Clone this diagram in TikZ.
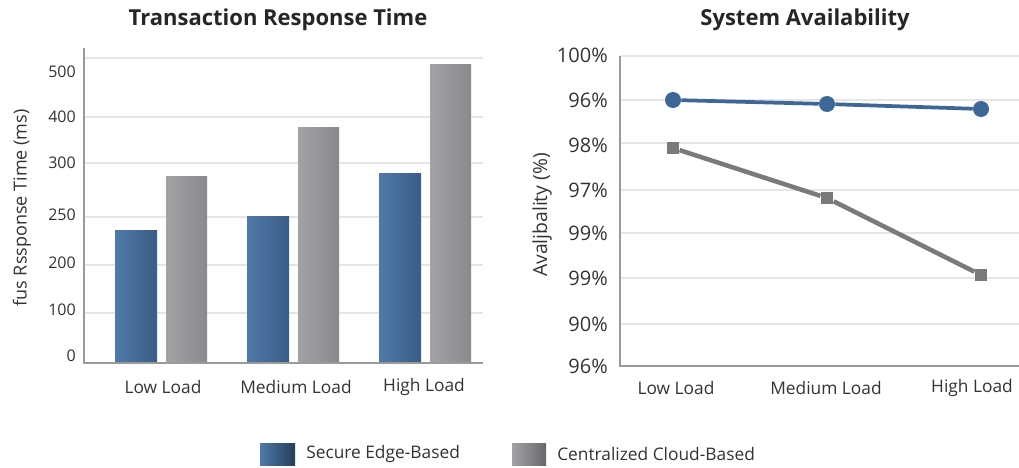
\documentclass[tikz,border=0pt]{standalone}
\usepackage{fontspec}
\setmainfont{Open Sans}
\usepackage{xcolor}
\usepackage{tikz}
\usetikzlibrary{positioning}
\definecolor{edgec}{HTML}{3D6797}
\definecolor{edgel}{HTML}{5079A8}
\definecolor{edged}{HTML}{3A5C86}
\definecolor{cloudc}{HTML}{7A7A7C}
\definecolor{cloudl}{HTML}{A3A3A5}
\definecolor{cloudd}{HTML}{89898B}
\definecolor{axc}{HTML}{9A9A9A}
\definecolor{gridc}{HTML}{E6E6E6}
\definecolor{txtc}{HTML}{333333}
\tikzset{
  gridln/.style={gridc,line width=1pt},
  axln/.style={axc,line width=1.1pt},
  ttl/.style={font=\fontsize{16.5}{18}\selectfont\bfseries,text=black!85},
  ticka/.style={anchor=east,font=\fontsize{12}{14}\selectfont,text=txtc,inner sep=0pt},
  tickb/.style={anchor=east,font=\fontsize{15}{17}\selectfont,text=txtc,inner sep=0pt},
  catlbl/.style={font=\fontsize{13}{15}\selectfont,text=txtc,inner sep=0pt},
  axttl/.style={rotate=90,font=\fontsize{13.5}{15}\selectfont,text=txtc,inner sep=0pt},
  edgebar/.style={left color=edgel,right color=edged},
  cloudbar/.style={left color=cloudl,right color=cloudd},
  edgept/.style={circle,fill=edgec,minimum size=12pt,inner sep=0pt},
  cloudpt/.style={rectangle,fill=cloudc,minimum size=9.5pt,inner sep=0pt},
  edgeln/.style={edgec,line width=2.8pt},
  cloudln/.style={cloudc,line width=3.4pt},
  legtxt/.style={anchor=west,font=\fontsize{13}{15}\selectfont,text=txtc,inner sep=0pt}
}
\begin{document}
\begin{tikzpicture}[x=0.75pt,y=-0.75pt]
\useasboundingbox (0,0) rectangle (1019,467);
% response time (bars)
\node[ttl] (rtitle) at (278,20) {Transaction Response Time};
\foreach \y in {58,117,163,217,265,313} \draw[gridln] (84,\y)--(483,\y);
\foreach \x/\t in {115/230,247/216,379/173} \shade[edgebar] (\x,363) rectangle (\x+42,\t);
\foreach \x/\t in {166/176,298/127,430/65} \shade[cloudbar] (\x,363) rectangle (\x+41,\t);
\draw[axln] (84,48)--(84,363)--(483,363);
\foreach \v/\y in {500/72,400/117,300/163,250/215,200/263,100/310,0/356}
  \node[ticka] at (76,\y) {\v};
\node[catlbl] (rlow) at (163,387) {Low Load};
\node[catlbl] (rmed) at (296,387) {Medium Load};
\node[catlbl] (rhigh) at (424,387) {High Load};
\node[axttl] (rylab) at (22,208) {fus Rssponse Time (ms)};
% availability (lines)
\node[ttl] (atitle) at (805,20) {System Availability};
\foreach \y in {56,100,143,190,233,278,324} \draw[gridln] (620,\y)--(1019,\y);
\draw[axln] (620,56)--(620,366)--(1019,366);
\foreach \v/\y in {100/55,96/100,98/145,97/190,99/233,99/278,90/324,96/366}
  \node[tickb] at (608,\y) {\v\%};
\node[catlbl] (alow) at (676,388) {Low Load};
\node[catlbl] (amed) at (826,388) {Medium Load};
\node[catlbl] (ahigh) at (972,388) {High Load};
\node[axttl,font=\fontsize{14.5}{16}\selectfont] (aylab) at (542,215) {Avaljbality (\%)};
\node[cloudpt] (c1) at (673,148) {};
\node[cloudpt] (c2) at (827,198) {};
\node[cloudpt] (c3) at (981,275) {};
\draw[cloudln] (c1)--(c2)--(c3);
\node[edgept] (e1) at (673,100) {};
\node[edgept] (e2) at (827,104) {};
\node[edgept] (e3) at (981,109) {};
\draw[edgeln] (e1)--(e2)--(e3);
% legend
\shade[left color=edgel,right color=edgec!60!black] (260,443) rectangle (295,465);
\node[legtxt] (ledge) at (306,454) {Secure Edge-Based};
\shade[left color=cloudl,right color=cloudc!85!black] (512,443) rectangle (546,465);
\node[legtxt] (lcloud) at (557,454) {Centralized Cloud-Based};
\end{tikzpicture}
\end{document}
